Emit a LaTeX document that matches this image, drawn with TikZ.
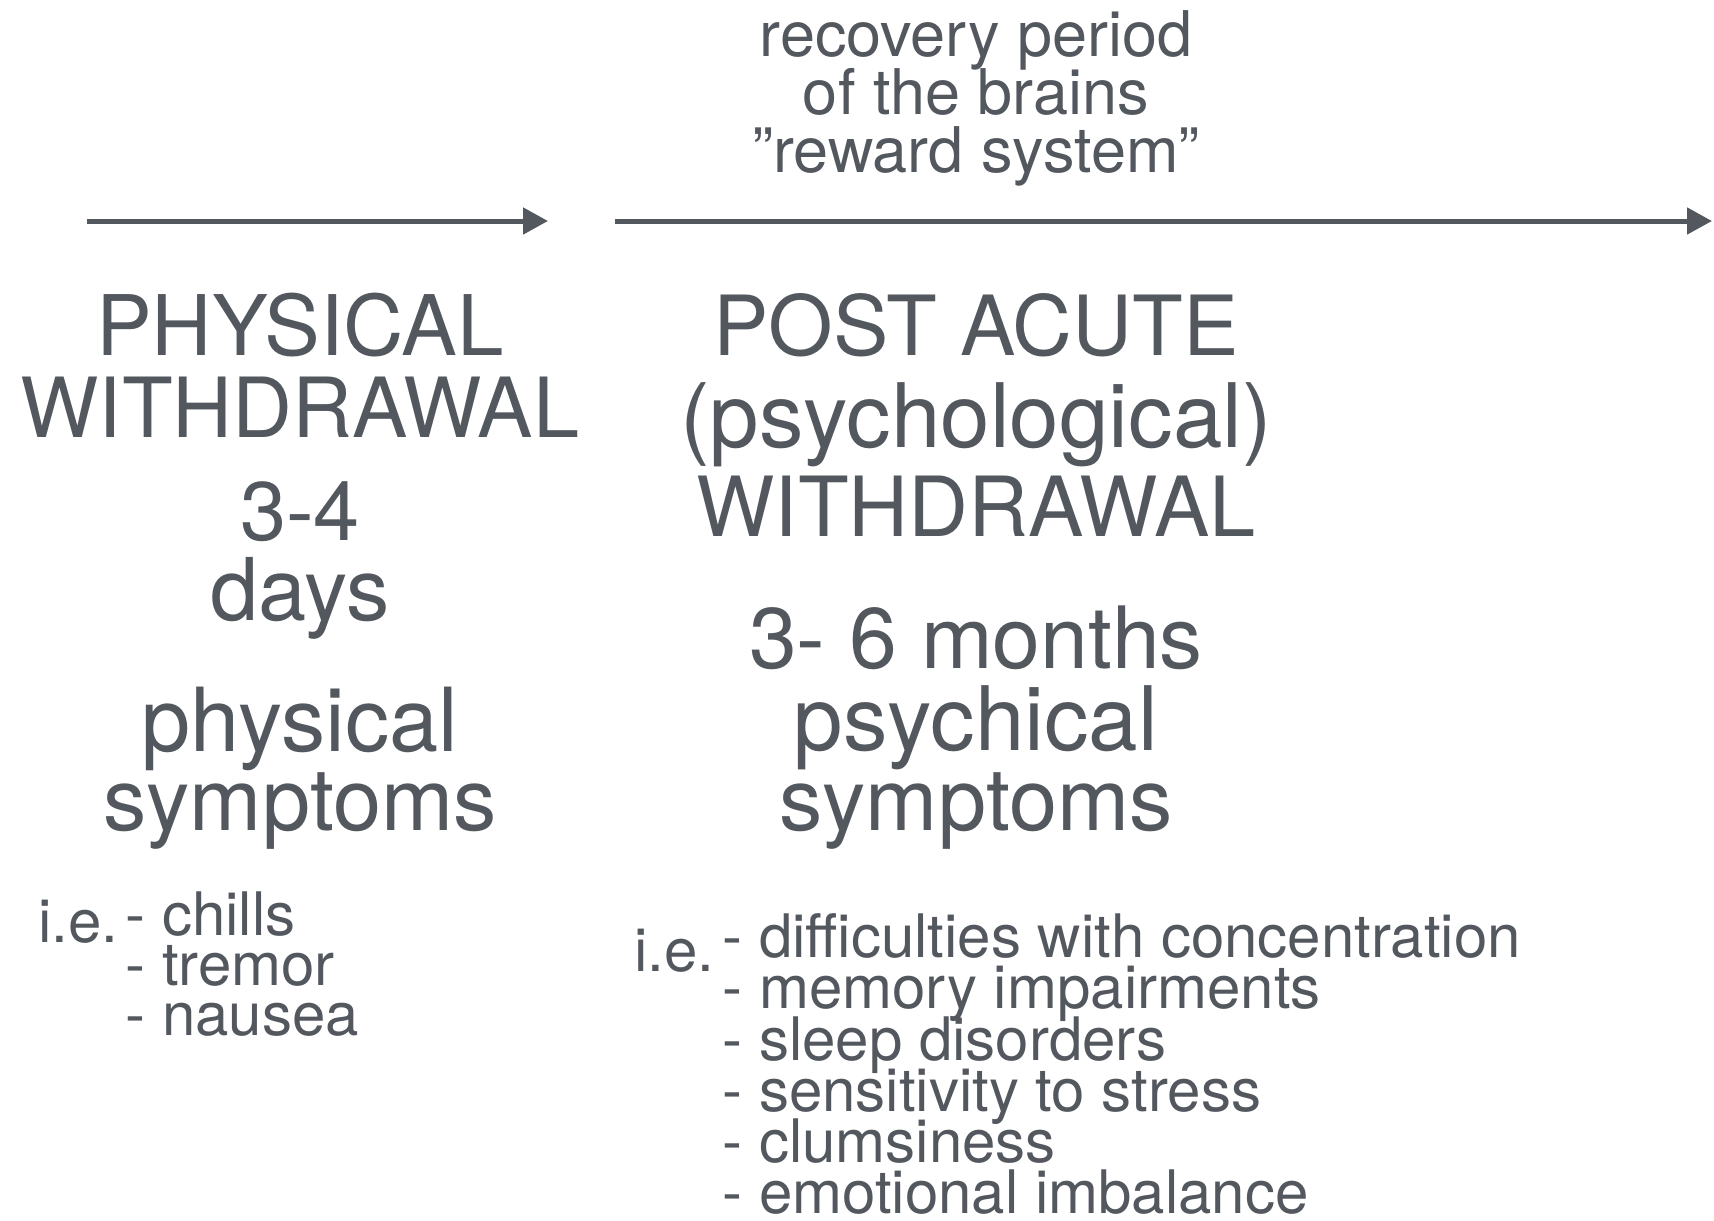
\documentclass[tikz,border=0pt]{standalone}
\usepackage{fontspec}
\setmainfont{TeX Gyre Heros}
\usetikzlibrary{arrows.meta}
\definecolor{ink}{RGB}{83,87,94}
\newcommand{\fsz}[1]{\fontsize{#1}{#1}\selectfont}
\begin{document}
\begin{tikzpicture}[x=0.5pt,y=-0.5pt,
  txt/.style={inner sep=0pt, text=ink, anchor=base},
  toplbl/.style={txt, font=\fsz{31.5}},
  itemtxt/.style={txt, anchor=base west, font=\fsz{30}},
  timeline/.style={draw=ink, line width=2.5pt, -{Triangle[length=12.5pt,width=13pt]}}]
\useasboundingbox (0,0) rectangle (1714,1221);

% timelines
\coordinate (a1s) at (87,221);
\coordinate (a1e) at (548,221);
\coordinate (a2s) at (615,221);
\coordinate (a2e) at (1712,221);
\draw[timeline] (a1s) -- (a1e);
\draw[timeline] (a2s) -- (a2e);

% top label
\node[toplbl] (r1) at (976,56) {recovery period};
\node[toplbl] (r2) at (976,114) {of the brains};
\node[toplbl] (r3) at (976,172) {”reward system”};

% left column
\node[txt, font=\fsz{41.8}] (l1) at (300,355) {PHYSICAL};
\node[txt, font=\fsz{41.5}] (l2) at (300,437) {WITHDRAWAL};
\node[txt, font=\fsz{41.5}] (l3) at (300,540) {3-4};
\node[txt, font=\fsz{43.3}] (l4) at (300,620) {days};
\node[txt, font=\fsz{44.2}] (l5) at (300,751) {physical};
\node[txt, font=\fsz{43.3}] (l6) at (300,830) {symptoms};

% right column
\node[txt, font=\fsz{41.5}] (m1) at (976,355) {POST ACUTE};
\node[txt, font=\fsz{44.5}] (m2) at (976,447) {(psychological)};
\node[txt, font=\fsz{41.5}] (m3) at (976,536) {WITHDRAWAL};
\node[txt, font=\fsz{43}] (m4) at (976,668) {3- 6 months};
\node[txt, font=\fsz{44.5}] (m5) at (976,750) {psychical};
\node[txt, font=\fsz{43.3}] (m6) at (976,830) {symptoms};

% left list
\node[itemtxt] (lie) at (38,942) {i.e.};
\node[itemtxt] (li1) at (125,935) {- chills};
\node[itemtxt] (li2) at (125,985) {- tremor};
\node[itemtxt] (li3) at (125,1035) {- nausea};

% right list
\node[itemtxt] (rie) at (634,971) {i.e.};
\node[itemtxt] (ri1) at (722,957) {- difficulties with concentration};
\node[itemtxt] (ri2) at (722,1008) {- memory impairments};
\node[itemtxt] (ri3) at (722,1060) {- sleep disorders};
\node[itemtxt] (ri4) at (722,1111) {- sensitivity to stress};
\node[itemtxt] (ri5) at (722,1162) {- clumsiness};
\node[itemtxt] (ri6) at (722,1213) {- emotional imbalance};
\end{tikzpicture}
\end{document}
